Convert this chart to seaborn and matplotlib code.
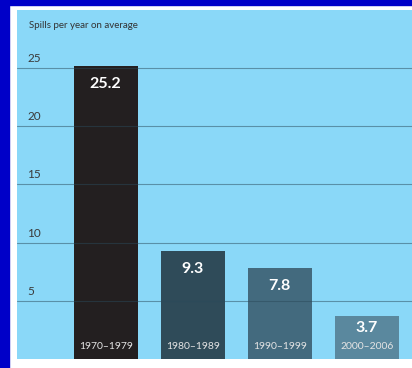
import matplotlib
matplotlib.use('Agg')
import matplotlib.pyplot as plt
import matplotlib.transforms as mtransforms
from matplotlib.patches import Rectangle
import seaborn as sns

periods = ['1970–1979', '1980–1989', '1990–1999', '2000–2006']
spills = [25.2, 9.3, 7.8, 3.7]
y_ticks = [5, 10, 15, 20, 25]
bar_colors = ['#231f20', '#2f4b59', '#436a7e', '#5a889e']

sns.set_style('white')
plt.rcParams['font.family'] = ['Lato', 'DejaVu Sans']

W, H = 412, 368
fig = plt.figure(figsize=(W / 100, H / 100), dpi=100)
fig.patch.set_facecolor('white')

# blue frame (left strip and top strip)
fig.patches.append(Rectangle((0, 0), 9 / W, 1, transform=fig.transFigure,
                             color='#0000c8', zorder=0))
fig.patches.append(Rectangle((0, 1 - 5 / H), 1, 5 / H, transform=fig.transFigure,
                             color='#0000c8', zorder=0))

ax = fig.add_axes([17 / W, 9 / H, (W - 17) / W, (359 - 10) / H])
ax.set_facecolor('#8ad8f8')

sns.barplot(x=periods, y=spills, hue=periods, palette=bar_colors,
            width=0.74, legend=False, saturation=1, ax=ax, zorder=2,
            edgecolor='none')

ax.set_xlim(-1.02, 3.52)
ax.set_ylim(0, 30)
for s in ax.spines.values():
    s.set_visible(False)
ax.set_xticks([])
ax.set_yticks([])
ax.set_xlabel('')
ax.set_ylabel('')

trans = mtransforms.blended_transform_factory(ax.transAxes, ax.transData)
for t in y_ticks:
    ax.axhline(t, color='#2a4a5a', alpha=0.5, lw=0.8, zorder=3)
    ax.text(0.026, t + 0.35, str(t), transform=trans, ha='left', va='bottom',
            fontsize=8.5, color='#3a3a3a', zorder=5)

ax.text(0.03, 0.957, 'Spills per year on average', transform=ax.transAxes,
        ha='left', va='center', fontsize=7, color='#333333', zorder=5)

for i, v in enumerate(spills):
    off = 0.45 if v < 5 else 0.95
    ax.text(i, v - off, f'{v:.1f}', ha='center', va='top', fontsize=11.5,
            fontweight='bold', color='white', zorder=5)
    ax.text(i, 1.05, periods[i], ha='center', va='center', fontsize=7.5,
            color='#e4e4e4', zorder=5)

fig.savefig('out.png', dpi=100, facecolor=fig.get_facecolor())
